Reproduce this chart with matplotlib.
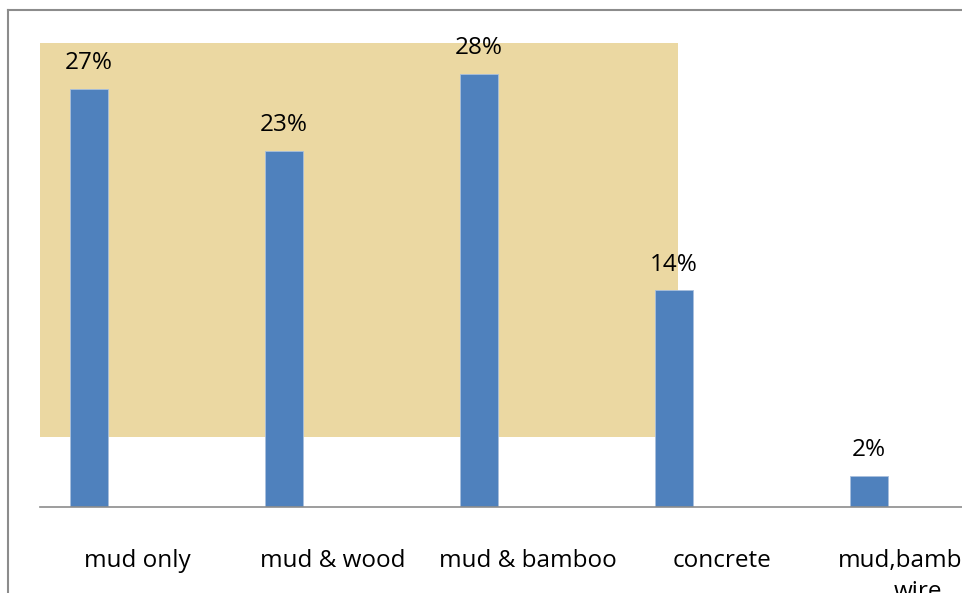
import matplotlib.pyplot as plt
from matplotlib.lines import Line2D
from matplotlib.patches import Rectangle

categories = ["mud only", "mud & wood", "mud & bamboo", "concrete", "mud,bamboo,\nwire"]
values = [27, 23, 28, 14, 2]
value_labels = ["27%", "23%", "28%", "14%", "2%"]

plt.rcParams['font.family'] = ['Open Sans', 'DejaVu Sans']

W, H = 969, 593
fig = plt.figure(figsize=(W / 100, H / 100), dpi=100)

# plot area: x 40..1015 px (runs past the right edge), y 43..507 px
ax = fig.add_axes([40 / W, (H - 507) / H, 975 / W, 464 / H])
ax.set_xlim(-0.5, len(categories) - 0.5)
ax.set_ylim(0, 30)
ax.patch.set_alpha(0)

# papyrus picture behind the bars
ax.add_patch(Rectangle((-0.5, 4.5), 3.27, 25.5, facecolor="#ebd8a2",
                       edgecolor="none", zorder=0))

xs = [i - 0.249 for i in range(len(categories))]
ax.bar(xs, values, width=0.195, color="#4f81bd", edgecolor="#a9c0dd",
       linewidth=0.6, zorder=2)
for x, v, lab in zip(xs, values, value_labels):
    ax.text(x, v + 0.9, lab, ha="center", va="bottom", fontsize=17.5, zorder=3)

for s in ["top", "right", "left"]:
    ax.spines[s].set_visible(False)
ax.spines["bottom"].set_color("#8c8c8c")
ax.spines["bottom"].set_linewidth(1.2)
ax.set_yticks([])
ax.set_xticks(range(len(categories)))
ax.set_xticklabels(categories, fontsize=17.5, linespacing=1.4)
ax.tick_params(axis="x", length=0, pad=30)

# outer chart border (only top and left are inside the picture)
fig.add_artist(Line2D([8 / W, 962 / W], [1 - 10 / H, 1 - 10 / H],
                      color="#8c8c8c", lw=1.5))
fig.add_artist(Line2D([8 / W, 8 / W], [1 - 10 / H, 0], color="#8c8c8c", lw=1.5))
# chart is cut off at the right
fig.add_artist(Rectangle((962 / W, 0), 7 / W, 1, transform=fig.transFigure,
                         facecolor="white", edgecolor="none", zorder=10))

fig.savefig("out.png", dpi=100)
